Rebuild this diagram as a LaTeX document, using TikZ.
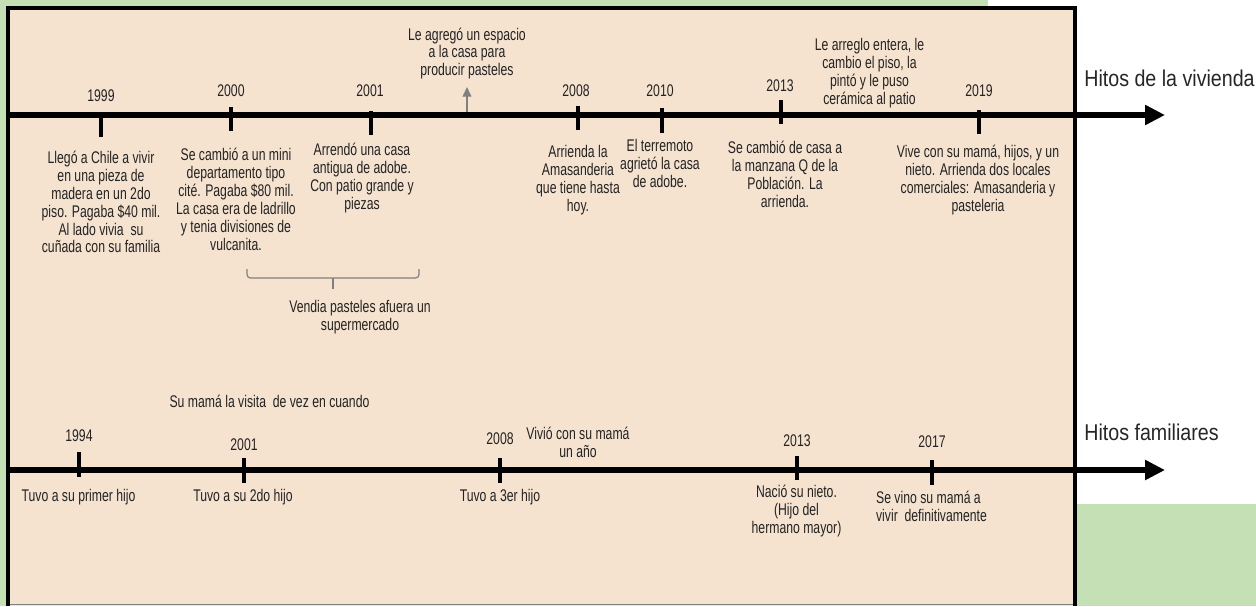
\documentclass[tikz,border=0pt]{standalone}
\usepackage{fontspec}
\setmainfont{Liberation Sans}[FakeStretch=0.725]
\newfontfamily\hitosfont{Liberation Sans}[FakeStretch=0.86]
\usepackage{tikz}
\usetikzlibrary{arrows.meta,positioning}
\definecolor{fondo}{RGB}{197,224,180}
\definecolor{beige}{RGB}{245,227,208}
\definecolor{texto}{RGB}{35,35,35}
\tikzset{
	hito/.style={font=\fontsize{9.6}{10.2}\selectfont,text=texto,align=center,inner sep=0pt},
	titulo/.style={font=\hitosfont\fontsize{13}{15}\selectfont,text=black!85,anchor=west,inner sep=0pt},
	eje/.style={line width=3.4pt,-{Triangle[length=11.3pt,width=10.8pt]}},
	marca/.style={line width=2.4pt},
	nota/.style={draw=gray,line width=0.7pt}
}

\begin{document}
\begin{tikzpicture}[x=0.02cm,y=-0.02cm]
				\useasboundingbox (0,0) rectangle (1256,606);
				\fill[fondo] (0,0) rectangle (1256,606);
				\fill[white] (988,0) rectangle (1256,504);
				\fill[beige] (8,8) rectangle (1075,606);
				\draw[gray] (8,604) -- (1075,604);
				\draw[line width=2.3pt] (8,606) -- (8,8) -- (1075,8) -- (1075,606);
				% hitos de la vivienda
				\coordinate (vivIni) at (10,115);
				\coordinate (vivFin) at (1165,115);
				\draw[eje] (vivIni) -- (vivFin);
				\foreach\x\a\b in {101/113/137, 231/107/131, 371/111/135, 578/106/130, 662/108/133, 781/100/124, 979/110/134}
				{\draw[marca] (\x,\a) -- (\x,\b);}
				\foreach\x\y\t in {101/95.5/1999, 231/91/2000, 370/91/2001, 576/91/2008, 660/91/2010, 780/86/2013, 979/91/2019}
				{\node[hito] (v\t) at (\x,\y) {\t};}
				\node[hito] (llego) at (101,202) {Llegó a Chile a vivir\\en una pieza de\\madera en un 2do\\piso. Pagaba \$40 mil.\\Al lado vivia\ \ su\\cuñada con su familia};
				\node[hito] (mini) at (236,199.5) {Se cambió a un mini\\departamento tipo\\cité. Pagaba \$80 mil.\\La casa era de ladrillo\\y tenia divisiones de\\vulcanita.};
				\node[hito] (adobe) at (362,178) {Arrendó una casa\\antigua de adobe.\\Con patio grande y\\piezas};
				\node[hito] (amasa) at (578,180.5) {Arrienda la\\Amasanderia\\que tiene hasta\\hoy.};
				\node[hito] (terremoto) at (660,163.5) {El terremoto\\agrietó la casa\\de adobe.};
				\node[hito] (manzana) at (785,174.5) {Se cambió de casa a\\la manzana Q de la\\Población. La\\arrienda.};
				\node[hito] (vive) at (978,180) {Vive con su mamá, hijos, y un\\nieto. Arrienda dos locales\\comerciales: Amasanderia y\\pasteleria};
				\node[hito] (agrega) at (467,53.5) {Le agregó un espacio\\a la casa para\\producir pasteles};
				\node[hito] (arreglo) at (869.5,73) {Le arreglo entera, le\\cambio el piso, la\\pintó y le puso\\cerámica al patio};
				\coordinate (agregaBase) at (467,112);
				\draw[nota,-{Triangle[length=5.5pt,width=5pt]}] (agregaBase) -- (agrega.south |- 0,87);
				\node[hito] (vendia) at (360,317) {Vendia pasteles afuera un\\supermercado};
				\coordinate (llaveMedio) at (333,278);
				\draw[nota,rounded corners=2pt] (247,269) -- (247,278) -- (419,278) -- (419,269);
				\draw[nota] (llaveMedio) -- (333,289);
				\node[titulo] (tVivienda) at (1084,78) {Hitos de la vivienda};
				% hitos familiares
				\coordinate (famIni) at (10,470);
				\coordinate (famFin) at (1165,470);
				\draw[eje] (famIni) -- (famFin);
				\foreach\x\a\b in {79/452/477, 244/458/483, 500/458/483, 797/456/480, 932/460/485}
				{\draw[marca] (\x,\a) -- (\x,\b);}
				\foreach\x\y\t in {79/436/1994, 244/445/2001, 500/439/2008, 797/441/2013, 932/442/2017}
				{\node[hito] (f\t) at (\x,\y) {\t};}
				\node[hito] (visita) at (269.5,401) {Su mamá la visita\ \ de vez en cuando};
				\node[hito] (vivio) at (578,442.5) {Vivió con su mamá\\un año};
				\node[hito] (primer) at (78.5,497.5) {Tuvo a su primer hijo};
				\node[hito] (segundo) at (243,497.5) {Tuvo a su 2do hijo};
				\node[hito] (tercer) at (500,497.5) {Tuvo a 3er hijo};
				\node[hito] (nieto) at (796.5,511) {Nació su nieto.\\(Hijo del\\hermano mayor)};
				\node[hito,align=left] (vino) at (931.5,506) {Se vino su mamá a\\vivir\ \ definitivamente};
				\node[titulo] (tFamilia) at (1084,432.5) {Hitos familiares};
	\end{tikzpicture}
\end{document}
